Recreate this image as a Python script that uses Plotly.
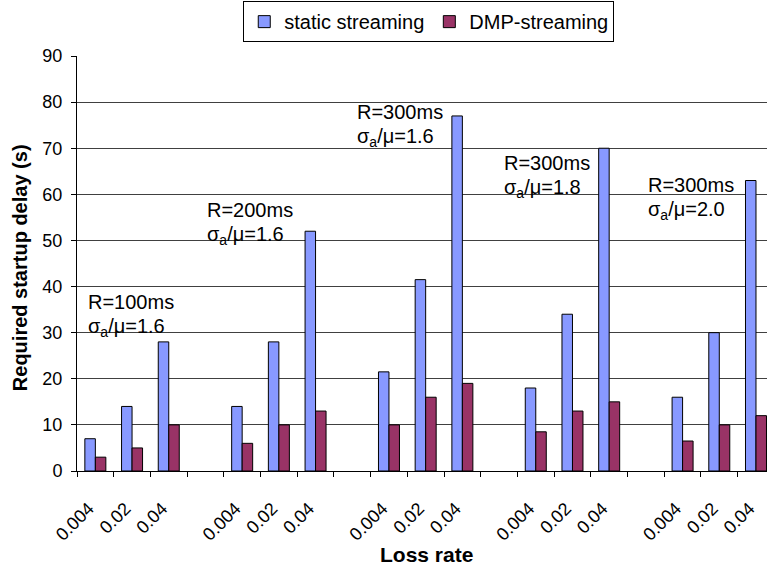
import plotly.graph_objects as go

loss_rates = ["0.004", "0.02", "0.04"]
group_labels = [
    ("R=100ms", "σ<sub>a</sub>/μ=1.6"),
    ("R=200ms", "σ<sub>a</sub>/μ=1.6"),
    ("R=300ms", "σ<sub>a</sub>/μ=1.6"),
    ("R=300ms", "σ<sub>a</sub>/μ=1.8"),
    ("R=300ms", "σ<sub>a</sub>/μ=2.0"),
]
static_streaming = [
    [7, 14, 28],
    [14, 28, 52],
    [21.5, 41.5, 77],
    [18, 34, 70],
    [16, 30, 63],
]
dmp_streaming = [
    [3, 5, 10],
    [6, 10, 13],
    [10, 16, 19],
    [8.5, 13, 15],
    [6.5, 10, 12],
]
# label positions (data units) for each group's annotation
label_x = [-0.26, 3.0, 7.07, 11.08, 15.01]
label_y = [36.7, 56.7, 77.9, 66.9, 62.0]

FONT = "Liberation Sans, Arial, sans-serif"

xs, ticktext, s_vals, d_vals = [], [], [], []
for g in range(len(static_streaming)):
    for i, lr in enumerate(loss_rates):
        xs.append(g * (len(loss_rates) + 1) + i)
        ticktext.append(lr)
        s_vals.append(static_streaming[g][i])
        d_vals.append(dmp_streaming[g][i])
label_pos = [x - 0.18 for x in xs]

fig = go.Figure()
fig.add_trace(go.Bar(x=xs, y=s_vals, name="static streaming",
                     marker=dict(color="#8899FF", line=dict(color="black", width=1))))
fig.add_trace(go.Bar(x=xs, y=d_vals, name="DMP-streaming",
                     marker=dict(color="#993366", line=dict(color="black", width=1))))

annotations = []
for (l1, l2), ax, ay in zip(group_labels, label_x, label_y):
    annotations.append(dict(x=ax, y=ay, xref="x", yref="y", text=l1, showarrow=False,
                            xanchor="left", yanchor="middle",
                            font=dict(family=FONT, size=20, color="black")))
    annotations.append(dict(x=ax, y=ay - 5.6, xref="x", yref="y", text=l2, showarrow=False,
                            xanchor="left", yanchor="middle",
                            font=dict(family=FONT, size=20, color="black")))
# axis titles
annotations.append(dict(x=0.5058, y=-0.2, xref="paper", yref="paper", text="<b>Loss rate</b>",
                        showarrow=False, xanchor="center", yanchor="middle",
                        font=dict(family=FONT, size=21, color="black")))
annotations.append(dict(x=-0.0833, y=0.49, xref="paper", yref="paper",
                        text="<b>Required startup delay (s)</b>", textangle=-90,
                        showarrow=False, xanchor="center", yanchor="middle",
                        font=dict(family=FONT, size=20, color="black")))

fig.update_layout(
    width=767, height=567,
    margin=dict(l=77, r=0, t=56, b=96, autoexpand=False),
    paper_bgcolor="white", plot_bgcolor="white",
    barmode="group", bargap=0.428, bargroupgap=0,
    font=dict(family=FONT, size=18, color="black"),
    legend=dict(orientation="h", xref="container", yref="container",
                x=0.559, xanchor="center", y=0.998, yanchor="top",
                bordercolor="black", borderwidth=1,
                font=dict(family=FONT, size=20),
                itemwidth=30, tracegroupgap=0),
    annotations=annotations,
    showlegend=True,
)
fig.update_xaxes(
    range=[-0.5, 18.3], automargin=False,
    tickmode="array", tickvals=label_pos, ticktext=ticktext, tickangle=-45,
    ticks="outside", ticklen=19, tickcolor="rgba(0,0,0,0)",
    showgrid=False, zeroline=False,
    showline=True, linecolor="black", linewidth=1,
    minor=dict(ticks="outside", tickmode="linear", tick0=-0.5, dtick=1, ticklen=5,
               tickcolor="black", showgrid=False),
    tickfont=dict(family=FONT, size=18),
)
fig.update_yaxes(
    range=[0, 90], dtick=10, automargin=False,
    ticks="outside", ticklen=5, tickcolor="black",
    ticklabelstandoff=5,
    showgrid=True, gridcolor="#404040", gridwidth=1,
    zeroline=False, showline=True, linecolor="black", linewidth=1,
    tickfont=dict(family=FONT, size=18),
)

fig.write_html("out.html", config={"displayModeBar": False},
               post_script="document.body.style.margin='0';")
